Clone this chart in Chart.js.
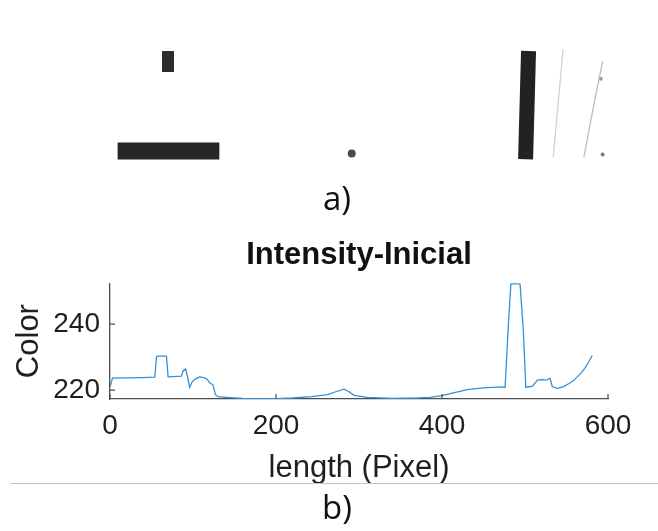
<!DOCTYPE html>
<html>
<head>
<meta charset="utf-8">
<script src="https://cdn.jsdelivr.net/npm/chart.js@4"></script>
<style>
  html, body { margin: 0; padding: 0; background: #fff; }
  body { width: 658px; height: 531px; position: relative; overflow: hidden; }
  #photo { position: absolute; left: 0; top: 0; width: 658px; height: 190px; }
  #plot { position: absolute; left: 0; top: 230px; width: 658px; height: 270px; }
  .tag { position: absolute; font-family: "Open Sans", sans-serif; font-size: 33px; color: #111; line-height: 1; }
  #tagA { left: 323px; top: 181px; }
  #tagB { left: 322px; top: 490px; }
  #rule { position: absolute; left: 10px; top: 483px; width: 648px; height: 0; border-top: 1px solid #c4c4c4; }
</style>
</head>
<body>
<canvas id="photo" width="658" height="190"></canvas>
<div class="tag" id="tagA">a)</div>
<canvas id="plot" width="658" height="270"></canvas>
<div id="rule"></div>
<div class="tag" id="tagB">b)</div>
<script>
// profile
const lengthPx = [0, 3, 20, 40, 54, 56, 58, 68, 70, 86, 88, 91, 93, 96, 99, 103, 108, 113, 117, 120, 124, 127, 130, 140, 160, 200, 220, 243, 262, 272, 282, 288, 294, 310, 340, 370, 385, 400, 415, 432, 450, 472, 476, 480, 483, 487, 494, 498, 501, 509, 515, 520, 526, 530, 533, 539, 546, 553, 558, 563, 568, 572, 576, 581];
const intensity = [220.9, 223.6, 223.7, 223.8, 223.9, 230.2, 230.3, 230.3, 224.0, 224.2, 225.8, 226.4, 224.5, 220.8, 222.5, 223.4, 224.0, 223.8, 223.3, 222.2, 221.6, 218.6, 218.0, 217.8, 217.5, 217.4, 217.6, 218.0, 218.6, 219.5, 220.3, 219.5, 218.4, 217.8, 217.5, 217.6, 217.8, 218.3, 219.2, 220.2, 220.7, 221.0, 220.8, 240.0, 252.2, 252.3, 252.2, 238.0, 220.8, 221.2, 223.0, 223.2, 223.0, 223.6, 221.0, 220.5, 221.0, 222.0, 222.8, 224.0, 225.3, 226.6, 228.2, 230.5];
const xTicks = [0, 200, 400, 600];
const yTicks = [220, 240];

// dark strokes in the strip image (image pixel coords)
const stubMark = [{x: 166, y: 49}, {x: 166, y: 71}];
const baseMark = [{x: 115, y: 153.5}, {x: 218, y: 153.5}];
const poleMark = [{x: 531, y: 49}, {x: 528, y: 162}];
const wireA = [{x: 566, y: 47}, {x: 556, y: 160}];
const wireB = [{x: 606, y: 60}, {x: 598, y: 100}, {x: 587, y: 160}];
const specks = [{x: 352, y: 156}, {x: 604, y: 78}, {x: 606, y: 157}];

const axisColor = '#4d4d4d';
const textColor = '#1f1f1f';
const lineColor = '#3390d4';

function strokeSet(points, color, width) {
    return {
        type: 'line',
        data: points,
        borderColor: color,
        borderWidth: width,
        borderCapStyle: 'butt',
        pointRadius: 0,
        tension: 0
    };
}

new Chart(document.getElementById('photo'), {
    type: 'scatter',
    data: {
        datasets: [
            strokeSet(stubMark, '#2b2b2b', 12),
            strokeSet(baseMark, '#262626', 17),
            strokeSet(poleMark, '#222222', 15),
            strokeSet(wireA, '#d2d2d2', 1.3),
            strokeSet(wireB, '#bdbdbd', 1.3),
            {
                data: specks,
                pointRadius: [4, 2, 2],
                pointStyle: 'circle',
                backgroundColor: ['#4a4a4a', '#9a9a9a', '#7a7a7a'],
                borderWidth: 0
            }
        ]
    },
    options: {
        responsive: false,
        animation: false,
        events: [],
        layout: { padding: 0 },
        plugins: { legend: { display: false }, tooltip: { enabled: false } },
        scales: {
            x: { type: 'linear', min: 0, max: 658, display: false },
            y: { type: 'linear', min: 0, max: 190, reverse: true, display: false }
        }
    }
});

// MATLAB-style tick marks pointing into the axes
const inwardTicks = {
    id: 'inwardTicks',
    afterDraw(chart) {
        const ctx = chart.ctx;
        const xs = chart.scales.x;
        const ys = chart.scales.y;
        ctx.save();
        ctx.strokeStyle = axisColor;
        ctx.lineWidth = 1.2;
        ctx.beginPath();
        xTicks.forEach(v => {
            const px = xs.getPixelForValue(v);
            ctx.moveTo(px, ys.bottom);
            ctx.lineTo(px, ys.bottom - 5);
        });
        yTicks.forEach(v => {
            const py = ys.getPixelForValue(v);
            ctx.moveTo(xs.left, py);
            ctx.lineTo(xs.left + 5, py);
        });
        ctx.stroke();
        ctx.restore();
    }
};

new Chart(document.getElementById('plot'), {
    type: 'line',
    data: {
        datasets: [{
            data: lengthPx.map((x, i) => ({x: x, y: intensity[i]})),
            borderColor: lineColor,
            borderWidth: 1.3,
            pointRadius: 0,
            tension: 0,
            fill: false
        }]
    },
    plugins: [inwardTicks],
    options: {
        responsive: false,
        animation: false,
        events: [],
        layout: { padding: { left: 0, right: 50, top: 0, bottom: 0 } },
        plugins: {
            legend: { display: false },
            tooltip: { enabled: false },
            title: {
                display: true,
                text: 'Intensity-Inicial',
                fullSize: false,
                color: '#111',
                font: { family: '"Liberation Sans", Arial, sans-serif', size: 31, weight: 'bold', lineHeight: 1.2 },
                padding: { top: 7, bottom: 9 }
            }
        },
        scales: {
            x: {
                type: 'linear',
                min: 0,
                max: 600,
                afterBuildTicks: s => { s.ticks = xTicks.map(v => ({value: v})); },
                afterFit: s => { s.height = 101; },
                grid: { display: false, drawTicks: false },
                border: { display: true, color: axisColor, width: 1.3 },
                ticks: {
                    color: textColor,
                    padding: 10,
                    maxRotation: 0,
                    font: { family: '"Liberation Sans", Arial, sans-serif', size: 28 }
                },
                title: {
                    display: true,
                    text: 'length (Pixel)',
                    color: textColor,
                    font: { family: '"Liberation Sans", Arial, sans-serif', size: 31, lineHeight: 1.2 },
                    padding: { top: 0, bottom: 13 }
                }
            },
            y: {
                type: 'linear',
                min: 217.3,
                max: 252.4,
                afterBuildTicks: s => { s.ticks = yTicks.map(v => ({value: v})); },
                afterFit: s => { s.width = 110; },
                grid: { display: false, drawTicks: false },
                border: { display: true, color: axisColor, width: 1.3 },
                ticks: {
                    color: textColor,
                    padding: 10,
                    font: { family: '"Liberation Sans", Arial, sans-serif', size: 28 }
                },
                title: {
                    display: true,
                    text: 'Color',
                    color: textColor,
                    font: { family: '"Liberation Sans", Arial, sans-serif', size: 31, lineHeight: 1.2 },
                    padding: { top: 11, bottom: 0 }
                }
            }
        }
    }
});
</script>
</body>
</html>
